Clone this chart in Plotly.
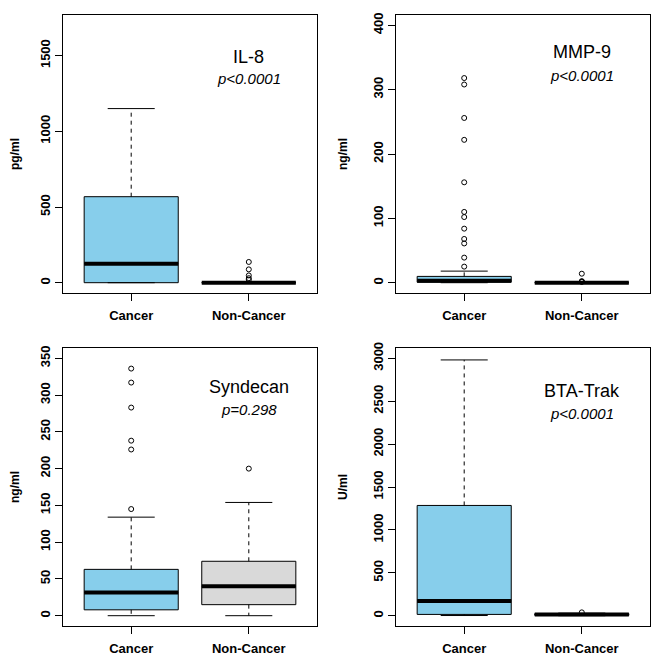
import plotly.graph_objects as go

# ---------------- data ----------------
groups = ["Cancer", "Non-Cancer"]
group_pos = [1, 2]

markers = ["IL-8", "MMP-9", "Syndecan", "BTA-Trak"]
pvalues = ["p<0.0001", "p<0.0001", "p=0.298", "p<0.0001"]
units = ["pg/ml", "ng/ml", "ng/ml", "U/ml"]
ymax = [1700, 400, 350, 3000]
ytick_step = [500, 100, 50, 500]
label_y = [1488, 358, 311, 2617]
pval_y = [1349, 322, 280, 2362]

# per panel: [Cancer, Non-Cancer]
lower_whisker = [[0, 0], [0, 0], [0, 0], [2, 0]]
q1 = [[0, 0], [0.8, 0], [8, 15], [15, 4]]
median = [[126, 0], [3, 0], [31.5, 40], [172, 14]]
q3 = [[568, 0], [9.8, 0], [63, 74], [1285, 24]]
upper_whisker = [[1150, 0], [18, 0], [134, 154], [2981, 30]]

outliers = [
    [[], [137, 88, 48, 30, 20]],
    [[318, 308, 256, 222, 156, 110, 102, 84, 68, 61, 39, 25], [14, 1.2, 1.8, 2.4]],
    [[336, 317, 283, 238, 226, 145], [200]],
    [[], [39]],
]

box_colors = [["#87CEEB", "#87CEEB"], ["#87CEEB", "#87CEEB"],
              ["#87CEEB", "#D9D9D9"], ["#87CEEB", "#87CEEB"]]

# ---------------- layout geometry ----------------
OFF = 8                      # default page body margin
W, H = 666 - 2 * OFF, 665 - 2 * OFF


def xd(a, b):
    return [(a - OFF) / W, (b - OFF) / W]


def yd(top, bottom):
    return [(H + OFF - bottom) / H, (H + OFF - top) / H]


xdom = [xd(63, 317), xd(396, 650), xd(63, 317), xd(396, 650)]
ydom = [yd(15, 293), yd(15, 293), yd(348, 626), yd(348, 626)]

FONT = "Liberation Sans, Arial, sans-serif"
BOXW = 0.8
CAPW = 0.4

fig = go.Figure()
layout = dict(
    width=W, height=H, margin=dict(l=0, r=0, t=0, b=0, autoexpand=False),
    paper_bgcolor="white", plot_bgcolor="white", showlegend=False,
    font=dict(family=FONT, color="black"),
    annotations=[],
)

for i in range(4):
    sfx = "" if i == 0 else str(i + 1)
    xa, ya = "x" + sfx, "y" + sfx
    for g in range(2):
        xp = group_pos[g]
        # box body
        fig.add_trace(go.Box(
            x=[xp], q1=[q1[i][g]], median=[median[i][g]], q3=[q3[i][g]],
            lowerfence=[q1[i][g]], upperfence=[q3[i][g]],
            width=BOXW, whiskerwidth=0, boxpoints=False,
            fillcolor=box_colors[i][g], line=dict(color="black", width=1),
            xaxis=xa, yaxis=ya, hoverinfo="skip",
        ))
        # dashed whiskers
        fig.add_trace(go.Scatter(
            x=[xp, xp, None, xp, xp],
            y=[q3[i][g], upper_whisker[i][g], None, q1[i][g], lower_whisker[i][g]],
            mode="lines", line=dict(color="black", width=1, dash="4px,4px"),
            xaxis=xa, yaxis=ya, hoverinfo="skip",
        ))
        # caps
        fig.add_trace(go.Scatter(
            x=[xp - CAPW / 2, xp + CAPW / 2, None, xp - CAPW / 2, xp + CAPW / 2],
            y=[upper_whisker[i][g], upper_whisker[i][g], None,
               lower_whisker[i][g], lower_whisker[i][g]],
            mode="lines", line=dict(color="black", width=1),
            xaxis=xa, yaxis=ya, hoverinfo="skip",
        ))
        # thick median
        fig.add_trace(go.Scatter(
            x=[xp - BOXW / 2, xp + BOXW / 2], y=[median[i][g], median[i][g]],
            mode="lines", line=dict(color="black", width=4),
            xaxis=xa, yaxis=ya, hoverinfo="skip",
        ))
        # outliers
        if outliers[i][g]:
            fig.add_trace(go.Scatter(
                x=[xp] * len(outliers[i][g]), y=outliers[i][g], mode="markers",
                marker=dict(symbol="circle-open", size=5, color="black",
                            line=dict(width=1, color="black")),
                xaxis=xa, yaxis=ya, hoverinfo="skip",
            ))

    layout["xaxis" + sfx] = dict(
        domain=xdom[i], anchor=ya, range=[0.42, 2.58], automargin=False,
        tickmode="array", tickvals=group_pos, ticktext=groups,
        ticks="outside", ticklen=7, tickcolor="black", ticklabelstandoff=3,
        showline=True, linecolor="black", linewidth=1, mirror=True,
        showgrid=False, zeroline=False,
        tickfont=dict(size=13, family=FONT, weight="bold", color="black"),
    )
    layout["yaxis" + sfx] = dict(
        domain=ydom[i], anchor=xa, automargin=False,
        range=[-0.04 * ymax[i], 1.04 * ymax[i]],
        tickmode="linear", tick0=0, dtick=ytick_step[i],
        ticks="outside", ticklen=7, tickcolor="black", tickangle=-90,
        showline=True, linecolor="black", linewidth=1, mirror=True,
        showgrid=False, zeroline=False,
        tickfont=dict(size=13, family=FONT, weight="bold", color="black"),
        title=dict(text=units[i], standoff=20,
                   font=dict(size=12, family=FONT, weight="bold", color="black")),
    )
    layout["annotations"].append(dict(
        x=2, y=label_y[i], xref=xa, yref=ya, text=markers[i], showarrow=False,
        font=dict(size=18, family=FONT, color="black"), xanchor="center", yanchor="middle"))
    layout["annotations"].append(dict(
        x=2, y=pval_y[i], xref=xa, yref=ya, text="<i>" + pvalues[i] + "</i>", showarrow=False,
        font=dict(size=15, family=FONT, color="black"), xanchor="center", yanchor="middle"))

fig.update_layout(**layout)
fig.write_html("out.html")
